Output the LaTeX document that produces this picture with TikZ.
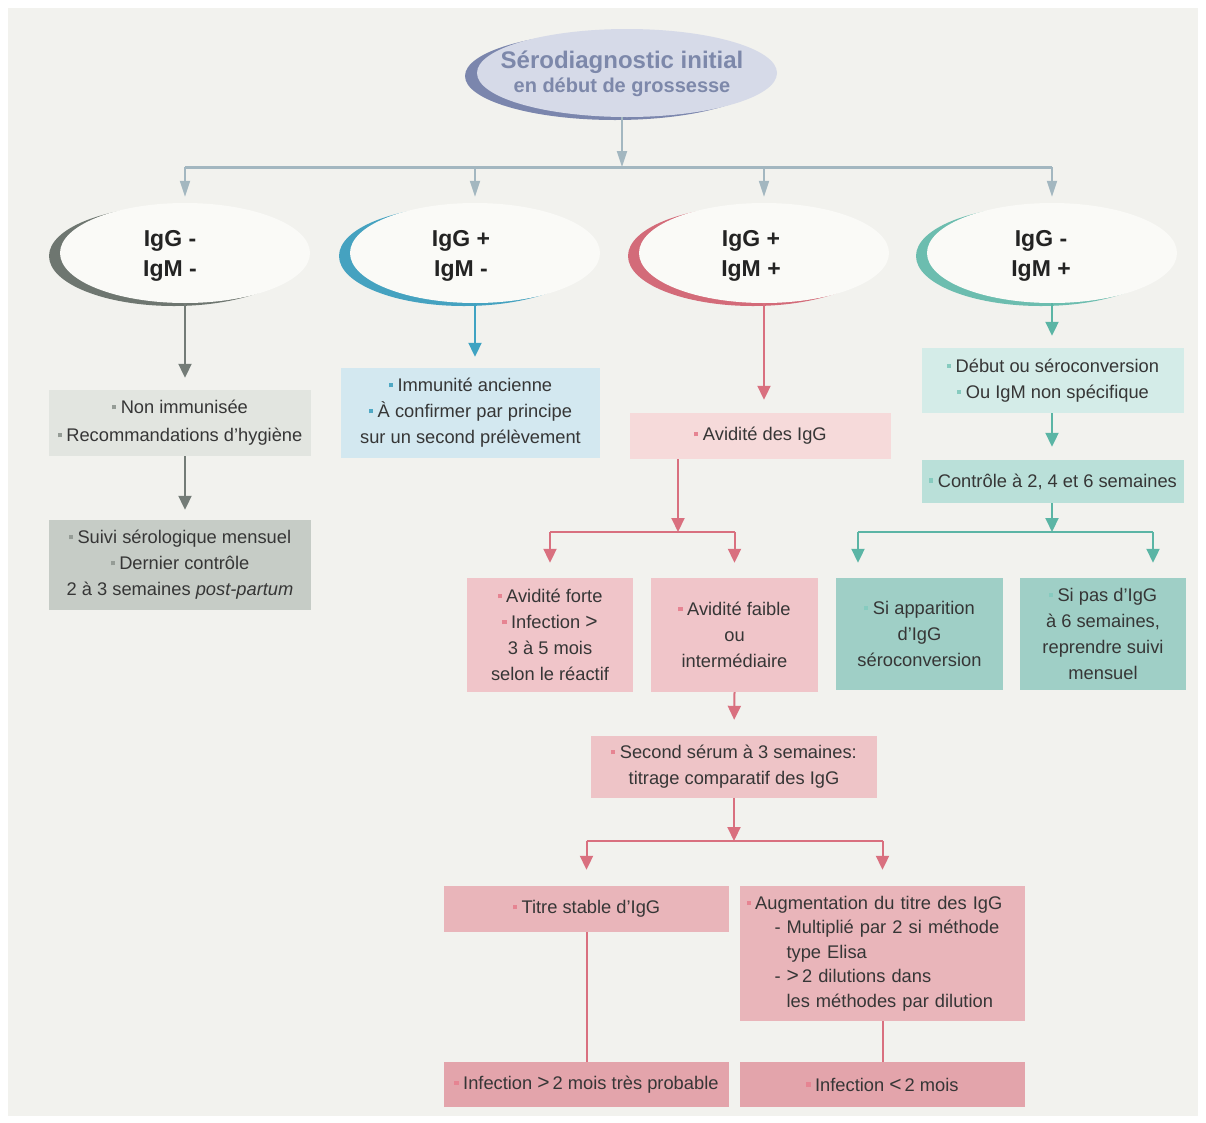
\documentclass[tikz,border=0pt]{standalone}
\usepackage{fontspec}
\setmainfont{Liberation Sans}
\usetikzlibrary{arrows.meta,shapes.geometric}
\definecolor{panel}{HTML}{F2F2EE}
\definecolor{txt}{HTML}{363636}
\definecolor{etxt}{HTML}{232323}
\definecolor{ttl}{HTML}{7D88AA}
\definecolor{ttlfill}{HTML}{D6DAE8}
\definecolor{ttldark}{HTML}{7B86AD}
\definecolor{efill}{HTML}{FAFAF7}
\definecolor{topln}{HTML}{A3B7C0}
% grey branch
\definecolor{gdark}{HTML}{6E7670}
\definecolor{gln}{HTML}{747C77}
\definecolor{gA}{HTML}{E2E5E0}
\definecolor{gB}{HTML}{C6CCC6}
\definecolor{gbul}{HTML}{959C96}
% blue branch
\definecolor{bdark}{HTML}{45A2C0}
\definecolor{bln}{HTML}{3FA3C2}
\definecolor{bA}{HTML}{D3E8F0}
\definecolor{bbul}{HTML}{4FA8C4}
% red branch
\definecolor{rdark}{HTML}{D36B79}
\definecolor{rln}{HTML}{D9707F}
\definecolor{rA}{HTML}{F6DADA}
\definecolor{rB}{HTML}{F0C5C9}
\definecolor{rC}{HTML}{EEC4C7}
\definecolor{rD}{HTML}{E9B5BA}
\definecolor{rE}{HTML}{E3A4AB}
\definecolor{rbul}{HTML}{E68492}
% teal branch
\definecolor{tdark}{HTML}{6CBDAF}
\definecolor{tln}{HTML}{5BB5A5}
\definecolor{tA}{HTML}{D4ECE8}
\definecolor{tB}{HTML}{BAE0D9}
\definecolor{tC}{HTML}{9FCFC6}
\definecolor{tbul}{HTML}{86CBBF}
\newcommand\bul[1]{{\color{#1}\rule[0.24em]{4.2pt}{4.2pt}}\hspace{4.5pt}}
\begin{document}
\begin{tikzpicture}[x=1pt,y=-1pt,
  box/.style={rectangle, inner sep=0pt, align=center, text=txt,
    font=\fontsize{18.3}{26}\selectfont},
  ell/.style={ellipse, inner sep=0pt, minimum width=250pt, minimum height=100pt},
  etext/.style={align=center, text=etxt, inner sep=0pt,
    font=\bfseries\fontsize{23}{30}\selectfont},
  tip/.style={-{Triangle[width=13pt,length=14pt]}},
  toptip/.style={-{Triangle[width=10pt,length=16pt]}},
  ln/.style={line width=2pt},
]
\useasboundingbox (0,0) rectangle (1206,1122);
\fill[white] (0,0) rectangle (1206,1122);
\fill[panel] (8,8) rectangle (1198,1116);

% ---- title ellipse
\node[ellipse, inner sep=0pt, fill=ttldark, minimum width=300pt, minimum height=88pt] (tls) at (615,76) {};
\node[ellipse, inner sep=0pt, fill=ttlfill, minimum width=300pt, minimum height=88pt] (tl) at (627,73) {};
\node[align=center, text=ttl, inner sep=0pt, font=\bfseries] (tlt) at (622,74)
  {{\fontsize{24}{28}\selectfont Sérodiagnostic initial}\\[3pt]{\fontsize{20}{25}\selectfont en début de grossesse}};

% ---- four ellipses
\node[ell, fill=gdark] (e1s) at (174,256) {};
\node[ell, fill=efill] (e1) at (185,253) {};
\node[etext] (e1t) at (170,256) {IgG -\\IgM -};
\node[ell, fill=bdark] (e2s) at (464,256) {};
\node[ell, fill=efill] (e2) at (475,253) {};
\node[etext] (e2t) at (461,256) {IgG +\\IgM -};
\node[ell, fill=rdark] (e3s) at (753,256) {};
\node[ell, fill=efill] (e3) at (764,253) {};
\node[etext] (e3t) at (751,256) {IgG +\\IgM +};
\node[ell, fill=tdark] (e4s) at (1041,256) {};
\node[ell, fill=efill] (e4) at (1052,253) {};
\node[etext] (e4t) at (1041,256) {IgG -\\IgM +};

% ---- top connectors
\coordinate (tb) at (622,167);
\coordinate (tbl) at (185,167);
\coordinate (tbr) at (1052,167);
\draw[ln, topln, toptip] (tlt |- tl.south) -- (tb);
\draw[line width=3pt, topln] (tbl) -- (tbr);
\foreach \n in {e1,e2,e3,e4}
  \draw[ln, topln, toptip] (\n.north |- tb) -- ([yshift=6pt]\n.north);

% ---- grey branch
\node[box, fill=gA, minimum width=262pt, minimum height=66pt, font=\fontsize{18.3}{28}\selectfont] (g1) at (180,423)
  {\bul{gbul}Non immunisée\\\bul{gbul}Recommandations d’hygiène};
\node[box, fill=gB, minimum width=262pt, minimum height=90pt] (g2) at (180,565)
  {\bul{gbul}Suivi sérologique mensuel\\\bul{gbul}Dernier contrôle\\2 à 3 semaines \textit{post-partum}};
\draw[ln, gln, tip, shorten >=12pt] (e1.south) -- (e1.south |- g1.north);
\draw[ln, gln, tip, shorten >=10pt] (e1.south |- g1.south) -- (e1.south |- g2.north);

% ---- blue branch
\node[box, fill=bA, minimum width=259pt, minimum height=90pt] (b1) at (470.5,413)
  {\bul{bbul}Immunité ancienne\\\bul{bbul}À confirmer par principe\\sur un second prélèvement};
\draw[ln, bln, tip, shorten >=11pt] (e2.south) -- (e2.south |- b1.north);

% ---- red branch
\node[box, fill=rA, minimum width=261pt, minimum height=46pt] (r1) at (760.5,436)
  {\bul{rbul}Avidité des IgG};
\node[box, fill=rB, minimum width=166pt, minimum height=114pt] (r2) at (550,635)
  {\bul{rbul}Avidité forte\\\bul{rbul}Infection {\fontsize{21}{21}\selectfont >}\\3 à 5 mois\\selon le réactif};
\node[box, fill=rB, minimum width=167pt, minimum height=114pt] (r3) at (734.5,635)
  {\bul{rbul}Avidité faible\\ou\\intermédiaire};
\node[box, fill=rC, minimum width=286pt, minimum height=62pt] (r4) at (734,767)
  {\bul{rbul}Second sérum à 3 semaines:\\titrage comparatif des IgG};
\node[box, fill=rD, minimum width=285pt, minimum height=46pt] (r5) at (586.5,909)
  {\bul{rbul}Titre stable d’IgG};
\node[box, fill=rD, minimum width=285pt, minimum height=135pt, align=left, text width=272pt, font=\fontsize{18.3}{24.5}\selectfont] (r6) at (882.5,953.5)
  {\bul{rbul}Augmentation du titre des IgG\\
   \hspace*{28pt}- Multiplié par 2 si méthode\\
   \hspace*{40pt}type Elisa\\
   \hspace*{28pt}- {\fontsize{21}{21}\selectfont >}\,2 dilutions dans\\
   \hspace*{40pt}les méthodes par dilution};
\node[box, fill=rE, minimum width=285pt, minimum height=45pt] (r7) at (586.5,1084.5)
  {\bul{rbul}Infection {\fontsize{21}{21}\selectfont >}\,2 mois très probable};
\node[box, fill=rE, minimum width=285pt, minimum height=45pt] (r8) at (882.5,1084.5)
  {\bul{rbul}Infection {\fontsize{21}{21}\selectfont <}\,2 mois};

\draw[ln, rln, tip, shorten >=13pt] (e3.south) -- (e3.south |- r1.north);
\coordinate (rj1) at (678,532);
\draw[ln, rln, tip] (rj1 |- r1.south) -- (rj1);
\draw[line width=2.5pt, rln] (r2.north |- rj1) -- (r3.north |- rj1);
\draw[ln, rln, tip, shorten >=15pt] (r2.north |- rj1) -- (r2.north);
\draw[ln, rln, tip, shorten >=15pt] (r3.north |- rj1) -- (r3.north);
\draw[ln, rln, tip, shorten >=16pt] (r3.south) -- (r4.north);
\coordinate (rj2) at (734,841);
\draw[ln, rln, tip] (r4.south) -- (rj2);
\draw[line width=2.5pt, rln] (r5.north |- rj2) -- (r6.north |- rj2);
\draw[ln, rln, tip, shorten >=16pt] (r5.north |- rj2) -- (r5.north);
\draw[ln, rln, tip, shorten >=16pt] (r6.north |- rj2) -- (r6.north);
\draw[ln, rln] (r5.south) -- (r7.north);
\draw[ln, rln] (r6.south) -- (r8.north);

% ---- teal branch
\node[box, fill=tA, minimum width=262pt, minimum height=65pt] (t1) at (1053,380.5)
  {\bul{tbul}Début ou séroconversion\\\bul{tbul}Ou IgM non spécifique};
\node[box, fill=tB, minimum width=262pt, minimum height=43pt] (t2) at (1053,481.5)
  {\bul{tbul}Contrôle à 2, 4 et 6 semaines};
\node[box, fill=tC, minimum width=167pt, minimum height=112pt] (t3) at (919.5,634)
  {\bul{tbul}Si apparition\\d’IgG\\séroconversion};
\node[box, fill=tC, minimum width=166pt, minimum height=112pt] (t4) at (1103,634)
  {\bul{tbul}Si pas d’IgG\\à 6 semaines,\\reprendre suivi\\mensuel};
\draw[ln, tln, tip, shorten >=12pt] (e4.south) -- (e4.south |- t1.north);
\draw[ln, tln, tip, shorten >=13pt] (e4.south |- t1.south) -- (e4.south |- t2.north);
\coordinate (tj) at (1052,532);
\coordinate (tjl) at (858,532);
\coordinate (tjr) at (1153,532);
\draw[ln, tln, tip] (e4.south |- t2.south) -- (tj);
\draw[line width=2.5pt, tln] (tjl) -- (tjr);
\draw[ln, tln, tip, shorten >=15pt] (tjl) -- (tjl |- t3.north);
\draw[ln, tln, tip, shorten >=15pt] (tjr) -- (tjr |- t4.north);
\end{tikzpicture}
\end{document}
